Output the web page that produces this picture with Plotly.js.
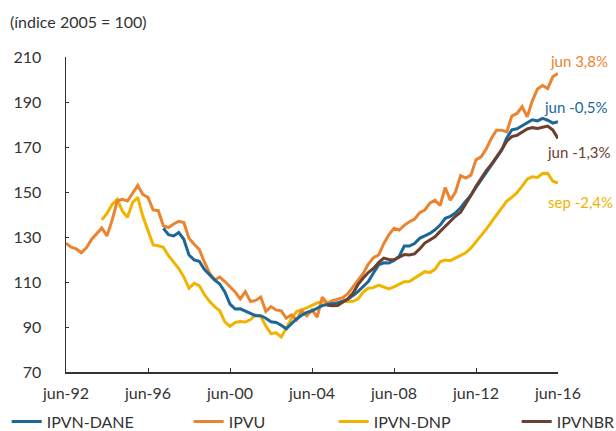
<!DOCTYPE html>
<html>
<head>
<meta charset="utf-8">
<script src="https://cdn.plot.ly/plotly-3.0.1.min.js"></script>
<style>html,body{margin:0;padding:0;background:#fff;}#chart{width:616px;height:431px;}</style>
</head>
<body>
<div id="chart"></div>
<script>
// Quarterly series, first value at the given quarter (YYYY-MM)
const ipvuStart = '1992-06';
const ipvu = [127.2,125.5,124.7,123.0,125.3,129.0,131.5,134.0,130.5,137.5,
  146.0,146.7,146.0,149.2,152.9,148.9,147.6,142.0,141.7,135.0,
  134.2,135.8,137.0,136.4,129.5,126.8,124.5,119.0,114.0,111.0,
  112.2,110.2,108.0,105.6,102.5,105.7,101.3,101.8,103.3,97.0,
  99.1,97.6,97.2,93.9,95.4,93.2,97.2,95.0,97.6,94.4,
  103.3,100.5,101.7,102.2,103.0,104.8,107.7,110.7,113.8,118.0,
  120.8,122.0,127.0,131.0,133.9,133.1,135.2,136.8,137.9,140.8,
  142.0,145.0,146.4,144.0,152.0,146.4,150.0,157.3,156.2,157.5,
  164.3,165.6,169.2,173.8,177.5,177.5,176.7,183.8,184.9,188.0,
  183.4,190.5,195.8,197.3,196.0,201.3,202.6];

const ipvnDaneStart = '1997-03';
const ipvnDane = [133.9,131.0,130.5,132.0,129.0,122.0,119.8,119.2,115.6,113.2,
  110.9,109.1,105.6,100.2,98.0,98.1,97.1,96.0,95.0,95.0,
  93.9,92.3,92.0,90.8,89.2,91.5,93.6,95.2,96.5,97.2,
  98.3,99.5,100.0,100.3,100.7,101.5,102.4,104.0,105.8,108.0,
  110.2,114.0,117.6,118.5,118.4,119.6,121.4,126.0,126.0,127.1,
  129.4,130.5,131.6,133.2,135.3,138.3,139.2,140.7,143.0,145.9,
  148.5,152.0,155.3,158.5,161.5,165.0,168.5,174.0,177.6,178.1,
  179.4,181.0,182.1,181.6,182.7,181.9,180.6,181.2];

const ipvnDnpStart = '1994-03';
const ipvnDnp = [137.6,140.5,144.5,146.7,141.6,138.8,145.3,147.6,139.2,132.4,
  126.5,126.1,125.4,121.7,118.9,116.0,112.3,107.2,109.4,108.4,
  104.5,101.4,99.1,97.2,92.3,90.3,92.0,92.4,92.2,93.3,
  95.4,94.8,90.5,87.1,87.4,85.6,89.5,93.8,96.9,97.6,
  98.5,99.6,100.7,101.2,100.8,100.3,100.9,101.3,101.3,101.4,
  102.5,105.5,107.2,107.5,108.6,107.9,106.9,107.8,109.0,110.1,
  110.2,111.6,113.0,114.6,114.2,115.6,119.0,119.8,119.5,120.7,
  121.8,123.0,125.0,127.8,130.5,133.5,136.6,139.6,143.0,146.0,
  147.6,149.7,152.6,155.7,156.8,156.5,158.2,158.3,154.8,154.0];

const ipvnbrStart = '2005-03';
const ipvnbr = [99.7,99.4,99.5,101.2,102.5,105.0,109.0,111.8,114.2,116.0,
  118.6,120.6,120.0,119.9,120.9,122.2,122.0,122.5,124.7,127.3,
  128.7,130.1,132.5,134.8,137.2,139.2,141.0,144.6,148.5,152.5,
  156.0,159.5,162.3,165.3,168.8,172.6,174.6,175.2,176.5,178.0,
  178.6,178.2,178.8,179.3,177.5,173.8];

const tickVals = ['1992-06-01','1996-06-01','2000-06-01','2004-06-01','2008-06-01','2012-06-01','2016-06-01'];
const tickText = ['jun-92','jun-96','jun-00','jun-04','jun-08','jun-12','jun-16'];

const endLabels = ['jun 3,8%','jun -0,5%','jun -1,3%','sep -2,4%'];

function quarterDates(start, n) {
  const [y, m] = start.split('-').map(Number);
  const out = [];
  for (let i = 0; i < n; i++) {
    const t = y * 12 + (m - 1) + 3 * i;
    const yy = Math.floor(t / 12), mm = t % 12 + 1;
    out.push(yy + '-' + String(mm).padStart(2, '0') + '-01');
  }
  return out;
}

const C = {dane:'#1d6797', ipvu:'#ea8430', dnp:'#f0b400', br:'#6c4030'};
const FONT = 'Lato, "Open Sans", sans-serif';

const traces = [
  {x: quarterDates(ipvnDaneStart, ipvnDane.length), y: ipvnDane, name:'IPVN-DANE', legend:'legend',
   mode:'lines', line:{color:C.dane, width:3}},
  {x: quarterDates(ipvuStart, ipvu.length), y: ipvu, name:'IPVU', legend:'legend2',
   mode:'lines', line:{color:C.ipvu, width:3}},
  {x: quarterDates(ipvnDnpStart, ipvnDnp.length), y: ipvnDnp, name:'IPVN-DNP', legend:'legend3',
   mode:'lines', line:{color:C.dnp, width:3}},
  {x: quarterDates(ipvnbrStart, ipvnbr.length), y: ipvnbr, name:'IPVNBR', legend:'legend4',
   mode:'lines', line:{color:C.br, width:3}}
];
// draw order: yellow, orange, blue, brown on top
const ordered = [traces[2], traces[1], traces[0], traces[3]];

const legY = (372.3 - 422) / 315.6;
function leg(xpx) {
  return {x:(xpx-66.3)/492, xanchor:'left', y:legY, yanchor:'middle', orientation:'h',
    font:{family:FONT, size:16, color:'#333'}, bgcolor:'rgba(0,0,0,0)', borderwidth:0};
}

const layout = {
  width:616, height:431,
  margin:{l:66.3, r:57.7, t:56.7, b:58.7, autoexpand:false},
  paper_bgcolor:'#fff', plot_bgcolor:'#fff',
  font:{family:FONT, size:16, color:'#333'},
  title:{text:'(índice 2005 = 100)', x:10/616, xref:'container', xanchor:'left',
    y:1-22/431, yref:'container', yanchor:'middle', font:{family:FONT, size:16, color:'#333'}},
  xaxis:{type:'date', range:['1992-06-01','2016-06-01'], tickmode:'array', tickvals:tickVals, ticktext:tickText,
    showgrid:false, zeroline:false, showline:true, linecolor:'#333', linewidth:1.5,
    ticks:'inside', ticklen:4, tickcolor:'#333', tickwidth:1, ticklabelstandoff:6,
    tickfont:{family:FONT, size:16, color:'#333'}},
  yaxis:{range:[70,210], tickvals:[70,90,110,130,150,170,190,210],
    showgrid:false, zeroline:false, showline:true, linecolor:'#333', linewidth:1.5,
    ticks:'inside', ticklen:3, tickcolor:'#333', tickwidth:1, ticklabelstandoff:20,
    tickfont:{family:FONT, size:16, color:'#333'}},
  showlegend:true,
  legend:leg(7), legend2:leg(189), legend3:leg(334), legend4:leg(517),
  annotations:[
    {xref:'paper', yref:'y', x:(548-66.3)/492, y:208.1, xanchor:'left', yanchor:'middle', showarrow:false,
     text:endLabels[0], font:{family:FONT, size:15, color:C.ipvu}},
    {xref:'paper', yref:'y', x:(542-66.3)/492, y:187.7, xanchor:'left', yanchor:'middle', showarrow:false,
     text:endLabels[1], font:{family:FONT, size:15, color:C.dane}},
    {xref:'paper', yref:'y', x:(545-66.3)/492, y:167.7, xanchor:'left', yanchor:'middle', showarrow:false,
     text:endLabels[2], font:{family:FONT, size:15, color:C.br}},
    {xref:'paper', yref:'y', x:(546-66.3)/492, y:145.5, xanchor:'left', yanchor:'middle', showarrow:false,
     text:endLabels[3], font:{family:FONT, size:15, color:C.dnp}}
  ]
};

Plotly.newPlot('chart', ordered, layout, {staticPlot:true, displayModeBar:false});
</script>
</body>
</html>
